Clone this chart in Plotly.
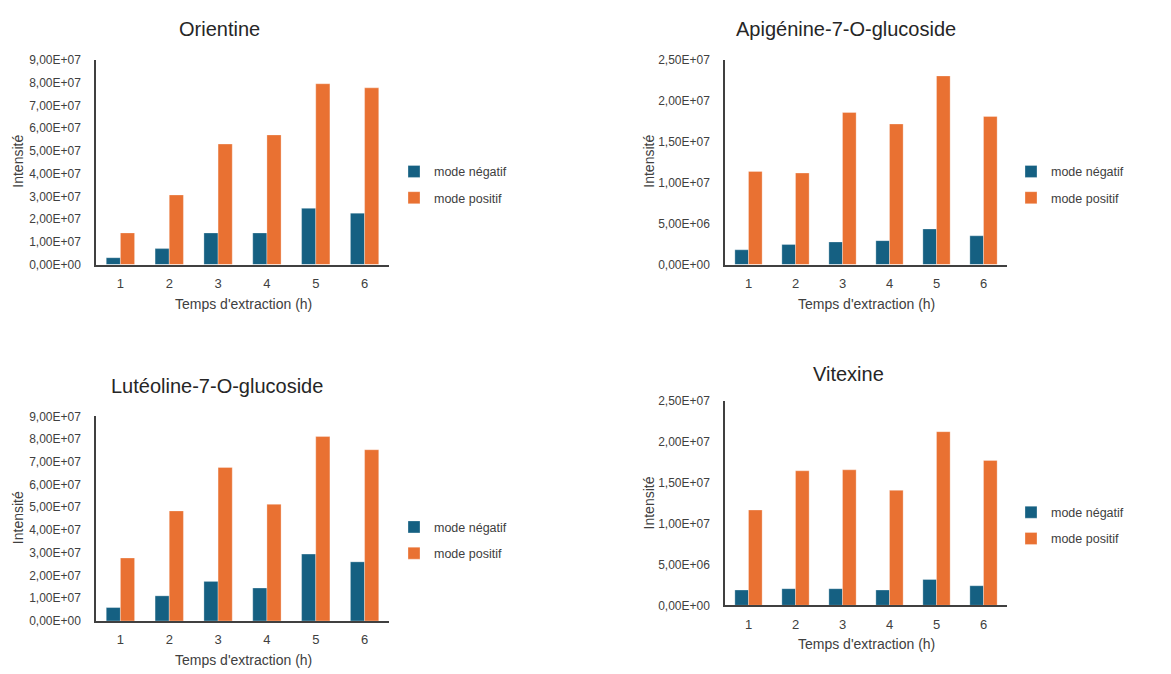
import plotly.graph_objects as go

W, H = 1171, 674

hours = ["1", "2", "3", "4", "5", "6"]
series_names = ["mode négatif", "mode positif"]
colors = ["#156082", "#E97132"]

orientine_neg = [3.0e6, 7.0e6, 1.39e7, 1.39e7, 2.47e7, 2.26e7]
orientine_pos = [1.39e7, 3.06e7, 5.30e7, 5.70e7, 7.95e7, 7.77e7]

apigenine_neg = [1.80e6, 2.44e6, 2.76e6, 2.92e6, 4.35e6, 3.51e6]
apigenine_pos = [1.138e7, 1.118e7, 1.857e7, 1.717e7, 2.304e7, 1.809e7]

luteoline_neg = [5.9e6, 1.105e7, 1.74e7, 1.45e7, 2.94e7, 2.60e7]
luteoline_pos = [2.77e7, 4.84e7, 6.75e7, 5.13e7, 8.11e7, 7.53e7]

vitexine_neg = [1.87e6, 2.03e6, 2.03e6, 1.87e6, 3.15e6, 2.39e6]
vitexine_pos = [1.164e7, 1.643e7, 1.655e7, 1.404e7, 2.121e7, 1.770e7]

titles = ["Orientine", "Apigénine-7-O-glucoside", "Lutéoline-7-O-glucoside", "Vitexine"]
y_max = [9e7, 2.5e7, 9e7, 2.5e7]
y_step = [1e7, 5e6, 1e7, 5e6]
x_title = "Temps d'extraction (h)"
y_title = "Intensité"

panels_data = [
    (orientine_neg, orientine_pos),
    (apigenine_neg, apigenine_pos),
    (luteoline_neg, luteoline_pos),
    (vitexine_neg, vitexine_pos),
]

# pixel boxes of plot areas: (left, right, top, bottom)
boxes = [
    (96, 389, 54, 263),
    (725, 1007, 54, 263),
    (96, 389, 418, 627),
    (725, 1007, 402, 611),
]
title_pos = [(219, 22), (846, 22), (217, 387), (848, 375)]
ytitle_pos = [(18, 158), (649, 158), (18, 522), (649, 507)]
xtitle_pos = [(243, 303), (866, 303), (243, 667), (866, 651)]
legend_pos = [(394, 153), (1011, 153), (394, 516), (1011, 501)]

FONT = "Liberation Sans"
TXT = "#404040"


def fmt(v):
    return f"{v:.2E}".replace(".", ",")


fig = go.Figure()
layout = dict(
    width=W, height=H,
    margin=dict(l=0, r=0, t=0, b=0),
    paper_bgcolor="white", plot_bgcolor="white",
    barmode="group", bargap=0.42, bargroupgap=0.0,
    font=dict(family=FONT, size=12, color=TXT),
    showlegend=True,
    annotations=[],
)

for i, (neg, pos) in enumerate(panels_data):
    k = i + 1
    xa = "x" if k == 1 else f"x{k}"
    ya = "y" if k == 1 else f"y{k}"
    lg = "legend" if k == 1 else f"legend{k}"
    for j, vals in enumerate((neg, pos)):
        fig.add_trace(go.Bar(
            x=hours, y=vals, name=series_names[j],
            marker=dict(color=colors[j], line=dict(color="rgba(255,255,255,0.6)", width=0.5)),
            xaxis=xa, yaxis=ya, legend=lg, legendgroup=f"g{k}_{j}",
        ))
    l, r, t, b = boxes[i]
    ticks = [y_step[i] * n for n in range(int(round(y_max[i] / y_step[i])) + 1)]
    layout[f"xaxis{'' if k == 1 else k}"] = dict(
        domain=[l / W, r / W], anchor=ya, type="category",
        showline=True, linecolor="#404040", linewidth=1.5,
        showgrid=False, zeroline=False, ticks="",
        tickfont=dict(size=13, color=TXT, family=FONT),
        ticklabelstandoff=6,
    )
    layout[f"yaxis{'' if k == 1 else k}"] = dict(
        domain=[1 - b / H, 1 - t / H], anchor=xa,
        range=[0, y_max[i]],
        tickmode="array", tickvals=ticks, ticktext=[fmt(v) for v in ticks],
        showline=True, linecolor="#404040", linewidth=1.5,
        showgrid=False, zeroline=False, ticks="",
        tickfont=dict(size=12, color=TXT, family=FONT),
        ticklabelstandoff=11,
    )
    lx, ly = legend_pos[i]
    layout[lg] = dict(
        x=lx / W, y=1 - ly / H, xanchor="left", yanchor="top",
        font=dict(size=12.5, color=TXT, family=FONT),
        bgcolor="rgba(0,0,0,0)", tracegroupgap=7, itemwidth=30,
        traceorder="grouped",
    )
    tx, ty = title_pos[i]
    layout["annotations"].append(dict(
        text=titles[i], x=tx / W, y=1 - ty / H, xref="paper", yref="paper",
        showarrow=False, xanchor="center", yanchor="middle",
        font=dict(size=20, color="#262626", family=FONT),
    ))
    ax, ay = ytitle_pos[i]
    layout["annotations"].append(dict(
        text=y_title, x=ax / W, y=1 - ay / H, xref="paper", yref="paper",
        showarrow=False, xanchor="center", yanchor="middle", textangle=-90,
        font=dict(size=14, color=TXT, family=FONT),
    ))
    bx, by = xtitle_pos[i]
    layout["annotations"].append(dict(
        text=x_title, x=bx / W, y=1 - by / H, xref="paper", yref="paper",
        showarrow=False, xanchor="center", yanchor="middle",
        font=dict(size=14, color=TXT, family=FONT),
    ))

fig.update_layout(**layout)
fig.write_html("out.html")
